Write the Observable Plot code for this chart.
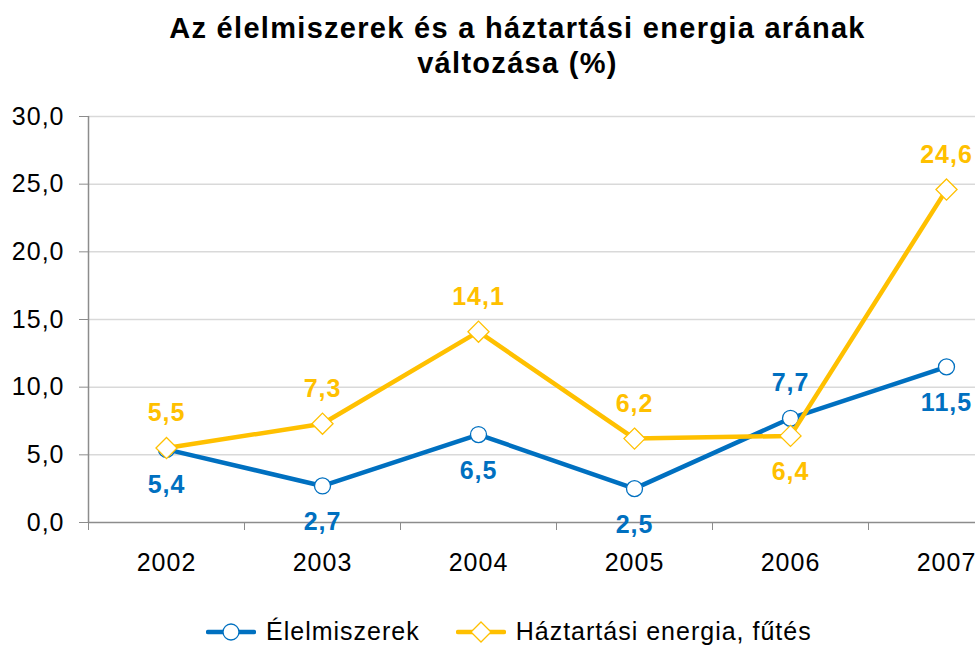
<!DOCTYPE html>
<html>
<head>
<meta charset="utf-8">
<script src="https://cdn.jsdelivr.net/npm/d3@7"></script>
<script src="https://cdn.jsdelivr.net/npm/@observablehq/plot@0.6"></script>
<style>
  html, body { margin: 0; padding: 0; background: #fff; width: 975px; height: 645px; overflow: hidden; }
  body { font-family: "Liberation Sans", Arial, sans-serif; }
  #title { height: 90px; box-sizing: border-box; padding-top: 11px; padding-left: 60px; text-align: center;
           font-weight: bold; font-size: 29px; letter-spacing: 1.3px; line-height: 35px; color: #000; }
  #chart svg { display: block; overflow: hidden; }
  #chart text { letter-spacing: 1px; }
  #legend { height: 45px; margin-top: 9px; display: flex; align-items: center; padding-left: 206px; font-size: 25px; letter-spacing: 1px; color: #000; }
  .item { display: flex; align-items: center; margin-right: 36px; }
  .item svg { margin-right: 10px; }
</style>
</head>
<body>
<div id="title">Az élelmiszerek és a háztartási energia arának<br>változása (%)</div>
<div id="chart"></div>
<div id="legend"></div>
<script>
const years = [2002, 2003, 2004, 2005, 2006, 2007];
const elelmiszerek = [5.4, 2.7, 6.5, 2.5, 7.7, 11.5];
const haztartasi = [5.5, 7.3, 14.1, 6.2, 6.4, 24.6];
const seriesNames = ["Élelmiszerek", "Háztartási energia, fűtés"];
const seriesColors = ["#0070C0", "#FFC000"];
const yTicks = [0, 5, 10, 15, 20, 25, 30];

const fmt = d => d.toFixed(1).replace(".", ",");

const rows = [];
years.forEach((yr, i) => {
  rows.push({year: yr, value: elelmiszerek[i], series: seriesNames[0], above: elelmiszerek[i] > haztartasi[i]});
  rows.push({year: yr, value: haztartasi[i], series: seriesNames[1], above: haztartasi[i] > elelmiszerek[i]});
});
const blue = rows.filter(d => d.series === seriesNames[0]);
const yellow = rows.filter(d => d.series === seriesNames[1]);

const xDomain = [years[0] - 0.5, years[years.length - 1] + 0.5];
const boundaries = years.map(y => y - 0.5).concat([xDomain[1]]);
const axisGray = "#8c8c8c";

const labelMarks = (data, color) => [
  Plot.text(data.filter(d => d.above), {x: "year", y: "value", text: d => fmt(d.value), dy: -35,
    fill: color, fontWeight: "bold", fontSize: 25}),
  Plot.text(data.filter(d => !d.above), {x: "year", y: "value", text: d => fmt(d.value), dy: 36,
    fill: color, fontWeight: "bold", fontSize: 25})
];

const chart = Plot.plot({
  width: 975,
  height: 510,
  marginTop: 26,
  marginBottom: 78,
  marginLeft: 88,
  marginRight: -49,
  style: {fontFamily: "'Liberation Sans', Arial, sans-serif", fontSize: "25px", background: "#fff", color: "#000"},
  x: {domain: xDomain, axis: null},
  y: {domain: [0, 30], axis: null},
  color: {domain: seriesNames, range: seriesColors},
  marks: [
    Plot.ruleY(yTicks.filter(d => d > 0), {stroke: "#d9d9d9", strokeWidth: 1.5}),
    Plot.axisY({ticks: yTicks, tickSize: 9, tickPadding: 15, tickFormat: fmt, stroke: axisGray, fill: "#000", fontSize: 25, label: null}),
    Plot.axisX({ticks: boundaries, tickSize: 8, tickFormat: () => "", stroke: axisGray, label: null}),
    Plot.axisX({ticks: years, tickSize: 0, tickPadding: 31, tickFormat: d => String(d), fill: "#000", fontSize: 25, label: null}),
    Plot.ruleX([xDomain[0]], {stroke: axisGray, strokeWidth: 1.5}),
    Plot.ruleY([0], {stroke: axisGray, strokeWidth: 1.5}),
    Plot.line(blue, {x: "year", y: "value", stroke: "series", strokeWidth: 4.5}),
    Plot.dot(blue, {x: "year", y: "value", stroke: "series", fill: "#fff", r: 8, strokeWidth: 1.3, symbol: "circle"}),
    Plot.line(yellow, {x: "year", y: "value", stroke: "series", strokeWidth: 4.5}),
    Plot.dot(yellow, {x: "year", y: "value", stroke: "series", fill: "#fff", r: 9.5, strokeWidth: 1.3, symbol: "diamond2"}),
    ...labelMarks(blue, seriesColors[0]),
    ...labelMarks(yellow, seriesColors[1])
  ]
});
document.getElementById("chart").appendChild(chart);

// Legend
const legend = document.getElementById("legend");
seriesNames.forEach((name, i) => {
  const item = document.createElement("div");
  item.className = "item";
  const sw = d3.create("svg").attr("width", 50).attr("height", 22);
  sw.append("line").attr("x1", 2).attr("x2", 48).attr("y1", 11).attr("y2", 11)
    .attr("stroke", seriesColors[i]).attr("stroke-width", 4.5).attr("stroke-linecap", "round");
  if (i === 0) {
    sw.append("circle").attr("cx", 25).attr("cy", 11).attr("r", 8)
      .attr("fill", "#fff").attr("stroke", seriesColors[i]).attr("stroke-width", 1.3);
  } else {
    sw.append("path").attr("d", "M25,1L35,11L25,21L15,11Z")
      .attr("fill", "#fff").attr("stroke", seriesColors[i]).attr("stroke-width", 1.3);
  }
  item.appendChild(sw.node());
  const t = document.createElement("span");
  t.textContent = name;
  item.appendChild(t);
  legend.appendChild(item);
});
</script>
</body>
</html>
